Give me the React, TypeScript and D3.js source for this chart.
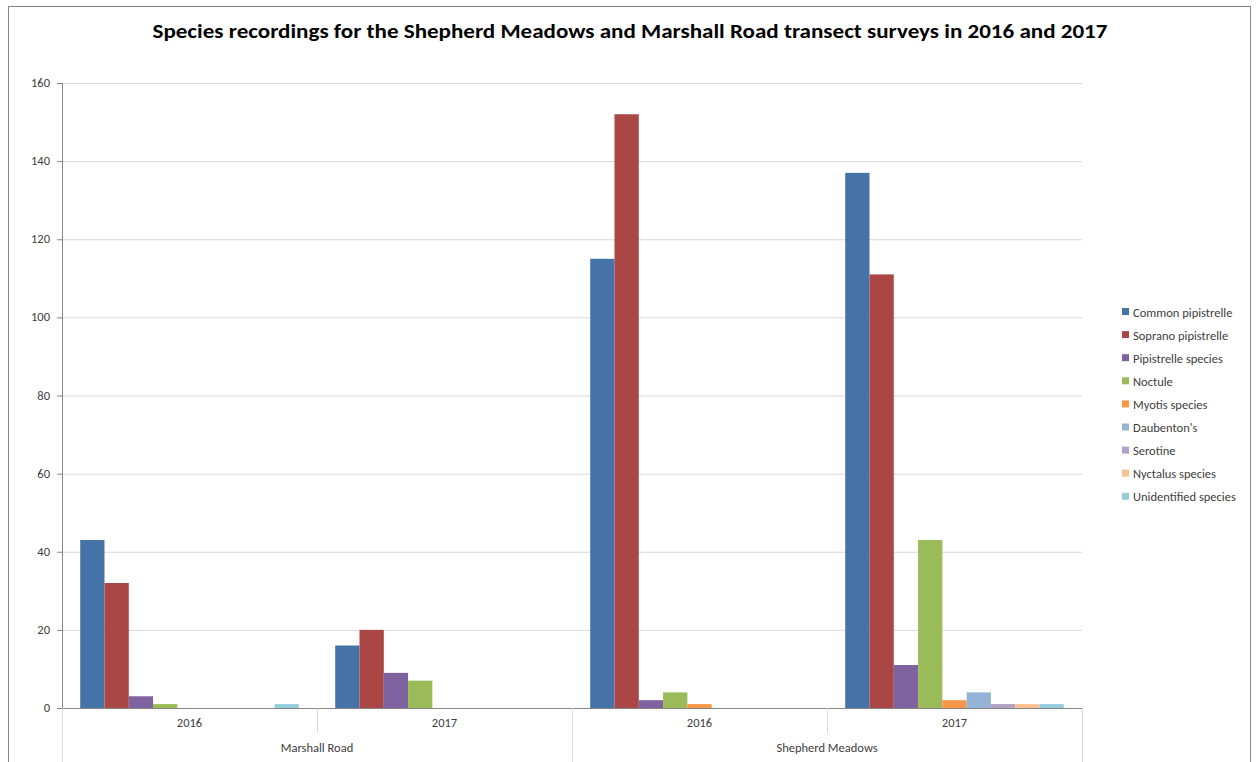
import React from "react";
import * as d3 from "d3";

const sites = ["Marshall Road", "Shepherd Meadows"];
const years = ["2016", "2017"];
const categories = [
  { site: "Marshall Road", year: "2016" },
  { site: "Marshall Road", year: "2017" },
  { site: "Shepherd Meadows", year: "2016" },
  { site: "Shepherd Meadows", year: "2017" },
];
const seriesNames = [
  "Common pipistrelle",
  "Soprano pipistrelle",
  "Pipistrelle species",
  "Noctule",
  "Myotis species",
  "Daubenton's",
  "Serotine",
  "Nyctalus species",
  "Unidentified species",
];
const seriesColors = [
  "#4572A7",
  "#AA4643",
  "#7F62A0",
  "#9BBB59",
  "#F79646",
  "#95B3D7",
  "#B3A2C7",
  "#FAC090",
  "#93CDDD",
];
// values[series][category]
const commonPip = [43, 16, 115, 137];
const sopranoPip = [32, 20, 152, 111];
const pipSpecies = [3, 9, 2, 11];
const noctule = [1, 7, 4, 43];
const myotis = [0, 0, 1, 2];
const daubentons = [0, 0, 0, 4];
const serotine = [0, 0, 0, 1];
const nyctalus = [0, 0, 0, 1];
const unidentified = [1, 0, 0, 1];
const seriesValues = [commonPip, sopranoPip, pipSpecies, noctule, myotis, daubentons, serotine, nyctalus, unidentified];
const yTicks = [0, 20, 40, 60, 80, 100, 120, 140, 160];
const title = "Species recordings for the Shepherd Meadows and Marshall Road transect surveys in 2016 and 2017";

export default function App() {
  const W = 1260, H = 762;
  const left = 62, right = 1082, top = 83, bottom = 708;
  const font = "Calibri, Carlito, 'Open Sans', 'Liberation Sans', sans-serif";
  const y = d3.scaleLinear().domain([0, 160]).range([bottom, top]);
  const x0 = d3.scaleBand<number>().domain(d3.range(categories.length)).range([left, right]).paddingInner(0).paddingOuter(0);
  const bw = x0.bandwidth();
  const barW = bw / 10.5;
  const x1 = d3.scaleBand<number>().domain(d3.range(seriesNames.length)).range([barW * 0.75, bw - barW * 0.75]).padding(0);
  const siteX = d3.scaleBand<string>().domain(sites).range([left, right]);
  const axisColor = "#868686";
  const gridColor = "#D9D9D9";
  const textColor = "#404040";
  const fs = 12.5;
  return (
    <svg width={W} height={H} style={{ position: "absolute", left: 0, top: 0 }} fontFamily={font}>
      <rect x={8.5} y={6.5} width={1242} height={H + 10} fill="white" stroke={axisColor} />
      <text x={630} y={38} textAnchor="middle" fontSize={19.5} fontWeight="bold" fill="#000" textLength={955} lengthAdjust="spacingAndGlyphs">{title}</text>
      {yTicks.map((t) => (
        <g key={t}>
          {t > 0 && <line x1={left} x2={right} y1={y(t) + 0.5} y2={y(t) + 0.5} stroke={gridColor} />}
          <line x1={left - 5} x2={left} y1={y(t) + 0.5} y2={y(t) + 0.5} stroke={axisColor} />
          <text x={left - 12} y={y(t) + 4} textAnchor="end" fontSize={fs} fill={textColor}>{t}</text>
        </g>
      ))}
      {seriesValues.map((vals, si) =>
        vals.map((v, ci) =>
          v > 0 ? (
            <rect key={si + "-" + ci} x={(x0(ci) as number) + (x1(si) as number)} y={y(v)} width={x1.bandwidth()} height={bottom - y(v)} fill={seriesColors[si]} />
          ) : null
        )
      )}
      <line x1={left + 0.5} x2={left + 0.5} y1={top} y2={bottom} stroke={axisColor} />
      <line x1={left - 5} x2={right} y1={bottom + 0.5} y2={bottom + 0.5} stroke={axisColor} />
      {categories.map((c, ci) => (
        <g key={ci}>
          <text x={(x0(ci) as number) + bw / 2} y={727} textAnchor="middle" fontSize={fs} fill={textColor}>{c.year}</text>
          {ci > 0 && ci % years.length !== 0 && (
            <line x1={(x0(ci) as number) + 0.5} x2={(x0(ci) as number) + 0.5} y1={bottom} y2={733} stroke={gridColor} />
          )}
        </g>
      ))}
      {sites.map((s) => (
        <g key={s}>
          <text x={(siteX(s) as number) + siteX.bandwidth() / 2} y={752} textAnchor="middle" fontSize={fs} fill={textColor}>{s}</text>
        </g>
      ))}
      {[...sites.map((s) => siteX(s) as number), right].map((xx, i) => (
        <line key={"sep" + i} x1={xx + 0.5} x2={xx + 0.5} y1={bottom} y2={H} stroke={gridColor} />
      ))}
      {seriesNames.map((n, i) => (
        <g key={n} transform={`translate(1122, ${312 + i * 23.1})`}>
          <rect x={0} y={-4} width={7} height={7} fill={seriesColors[i]} />
          <text x={11} y={4.5} fontSize={fs} fill={textColor}>{n}</text>
        </g>
      ))}
    </svg>
  );
}
